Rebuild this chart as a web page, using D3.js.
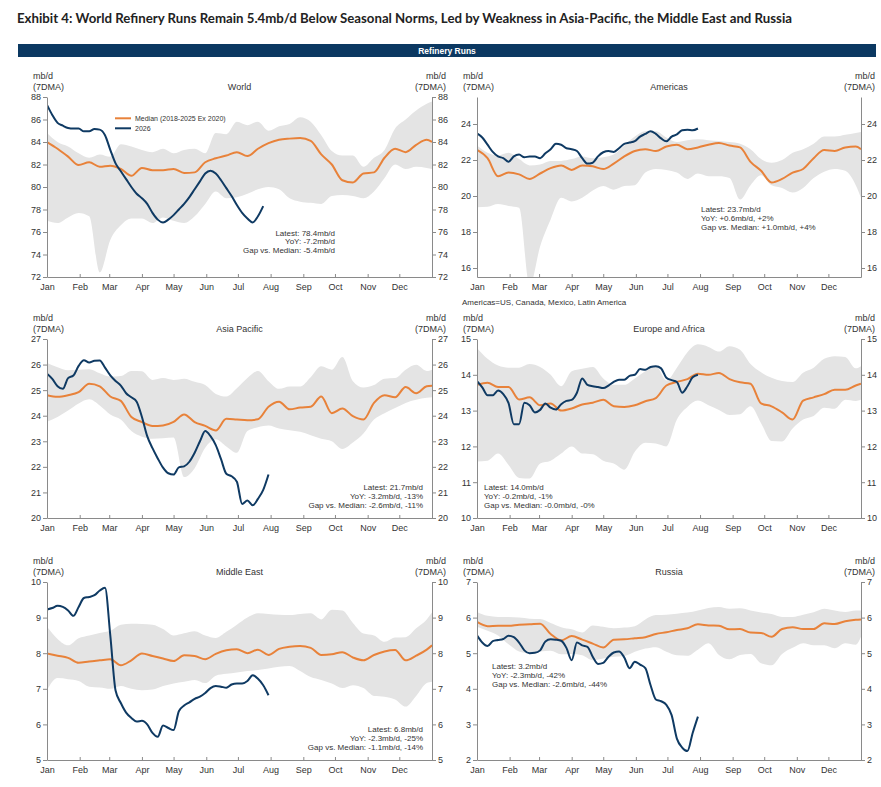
<!DOCTYPE html>
<html><head><meta charset="utf-8">
<script src="https://cdn.jsdelivr.net/npm/d3@7"></script>
<style>body{margin:0;background:#fff}svg{display:block}</style>
</head><body><svg id="c" width="881" height="787"></svg>
<script>
const monthLabels = ["Jan","Feb","Mar","Apr","May","Jun","Jul","Aug","Sep","Oct","Nov","Dec"];
const monthStartDays = [0,31,59,90,120,151,181,212,243,273,304,334];
const bandDays = [0,10,20,30,40,50,60,70,80,90,100,110,120,130,140,150,160,170,180,190,200,210,220,230,240,250,260,270,280,290,300,310,320,330,340,350,360,365];
const days2026 = [0,5,10,15,20,25,30,35,40,45,50,55,60,65,70,75,80,85,90,95,100,105,110,115,120,125,130,135,140,145,150,155,160,165,170,175,180,185,190,195,200,205,210];

const worldMedian = [84.0,83.4,82.7,81.95,82.2,81.8,81.9,81.6,81.0,81.7,81.5,81.5,81.6,81.25,81.3,82.2,82.55,82.8,83.1,82.75,83.4,83.9,84.2,84.3,84.35,84.1,82.9,82.0,80.6,80.4,81.2,81.3,82.6,83.4,83.1,83.75,84.2,84.0];
const worldUpper = [84.8,84.0,83.6,83.0,82.6,82.9,82.7,83.8,83.6,83.3,83.1,83.4,83.0,83.3,83.4,83.0,84.8,84.7,85.8,85.5,85.8,85.0,85.4,85.6,86.2,85.8,84.6,83.2,82.8,82.8,81.8,82.6,83.3,85.2,86.0,86.8,87.4,87.6];
const worldLower = [77.0,76.8,77.3,77.7,77.4,72.4,75.3,76.6,77.2,77.2,76.8,77.3,77.0,76.8,77.4,78.5,79.6,79.0,79.1,79.4,79.8,80.0,79.8,79.0,78.7,78.6,78.5,79.2,79.3,79.2,79.0,79.6,80.8,82.0,81.6,81.8,81.7,81.6];
const world2026 = [87.3,86.4,85.7,85.45,85.25,85.2,85.2,84.95,84.95,85.15,85.1,84.6,83.3,82.1,81.4,80.7,80.0,79.4,79.0,78.5,77.7,77.1,76.85,77.1,77.5,78.0,78.5,79.1,79.8,80.5,81.2,81.45,81.2,80.6,79.9,79.2,78.4,77.7,77.2,76.85,77.4,78.3];

const americasMedian = [22.56,22.1,21.1,21.3,21.2,20.95,21.25,21.55,21.7,21.45,21.7,21.65,21.5,21.8,22.2,22.5,22.6,22.5,22.75,22.85,22.6,22.7,22.85,22.95,22.8,22.7,21.9,21.4,20.75,20.95,21.3,21.5,22.1,22.55,22.5,22.7,22.75,22.6];
const americasUpper = [22.8,22.4,22.25,22.4,22.05,21.7,21.75,21.95,21.95,22.05,22.2,22.1,22.15,22.3,22.8,23.3,23.6,23.6,23.25,23.0,23.1,23.15,23.1,23.05,23.0,22.9,22.6,22.05,21.85,22.0,22.4,22.6,22.9,23.3,23.3,23.4,23.5,23.55];
const americasLower = [19.37,19.4,19.55,19.45,19.35,15.0,17.2,18.7,19.9,19.7,19.9,20.3,20.55,20.35,20.55,20.6,21.3,21.5,21.45,21.3,20.95,21.25,21.1,21.1,21.0,19.8,20.6,21.15,20.6,20.45,20.2,20.45,21.0,21.35,21.5,21.4,20.6,19.9];
const americas2026 = [23.48,23.25,22.85,22.45,22.2,22.1,21.9,22.2,22.3,22.15,22.2,22.2,22.1,22.37,22.6,22.9,22.85,22.65,22.6,22.5,22.1,21.8,21.85,22.2,22.43,22.5,22.45,22.65,22.9,22.97,23.05,23.3,23.45,23.6,23.45,23.2,23.04,23.3,23.42,23.65,23.68,23.65,23.75];

const asiaMedian = [24.8,24.74,24.8,24.92,25.25,25.15,24.75,24.58,23.95,23.75,23.6,23.62,23.76,24.05,23.75,23.6,23.42,23.88,23.85,23.82,23.86,24.35,24.55,24.25,24.32,24.35,24.75,24.1,24.28,23.98,23.85,24.5,24.8,24.72,25.12,24.88,25.15,25.17];
const asiaUpper = [26.06,25.9,25.78,25.8,25.82,25.66,25.53,25.55,25.75,25.74,25.4,25.47,25.4,25.45,25.33,25.2,24.85,24.75,25.07,25.47,25.75,25.35,25.05,25.14,25.14,25.5,25.93,25.8,26.3,25.35,25.1,25.2,25.45,25.47,25.8,25.99,25.75,25.8];
const asiaLower = [23.76,23.95,24.2,24.48,24.64,24.4,24.05,23.85,23.4,23.18,23.1,23.12,23.15,21.6,21.95,22.75,23.08,22.8,22.55,23.4,23.55,23.62,23.5,23.43,23.37,23.24,23.1,23.0,22.7,22.95,23.3,23.85,24.1,24.3,24.5,24.62,24.7,24.72];
const asia2026 = [25.64,25.44,25.15,25.05,25.47,25.57,25.95,26.17,26.08,26.15,26.16,25.88,25.58,25.36,25.18,24.88,24.72,24.55,23.95,23.2,22.73,22.33,21.97,21.75,21.7,21.98,22.02,22.2,22.55,23.0,23.4,23.2,22.85,22.3,21.73,21.63,21.42,20.55,20.68,20.5,20.75,21.1,21.7];

const europeMedian = [13.72,13.78,13.66,13.66,13.31,13.37,13.15,13.2,13.0,13.06,13.17,13.22,13.3,13.12,13.1,13.15,13.26,13.35,13.7,13.8,13.88,14.03,14.0,14.05,13.88,13.79,13.75,13.2,13.12,12.95,12.75,13.28,13.37,13.46,13.58,13.58,13.7,13.75];
const europeUpper = [14.75,14.45,14.26,14.2,14.2,14.3,14.22,14.0,13.68,14.1,14.17,14.22,13.9,13.72,13.72,13.9,14.1,14.25,13.84,14.2,14.63,14.85,14.78,14.65,14.8,14.7,14.3,14.07,13.92,13.83,13.8,14.06,14.2,14.45,14.52,14.5,14.18,14.24];
const europeLower = [11.58,11.6,11.8,11.48,11.12,11.1,11.52,11.6,11.8,12.0,11.8,11.78,11.6,11.52,11.35,11.85,12.1,12.08,12.0,12.75,13.1,13.28,13.15,13.02,12.88,12.9,13.12,12.65,12.15,12.14,12.5,12.75,12.85,13.08,13.05,13.3,13.27,13.3];
const europe2026 = [13.82,13.65,13.43,13.43,13.56,13.46,13.21,12.62,12.62,13.22,13.15,12.95,13.02,13.2,13.08,13.03,13.18,13.27,13.3,13.5,13.9,13.72,13.68,13.66,13.63,13.7,13.8,13.86,13.86,13.97,14.0,14.16,14.14,14.22,14.24,14.18,13.92,13.85,13.8,13.5,13.68,13.93,14.0];

const meMedian = [7.99,7.93,7.87,7.73,7.77,7.8,7.83,7.66,7.8,7.99,7.92,7.85,7.78,7.94,7.92,7.83,7.98,8.08,8.11,8.0,8.1,7.95,8.12,8.18,8.2,8.15,7.95,7.97,8.03,7.88,7.8,7.95,8.05,8.09,7.8,7.93,8.1,8.22];
const meUpper = [8.74,8.4,8.22,8.42,8.5,8.57,8.63,8.8,8.83,8.82,8.8,8.68,8.5,8.56,8.62,8.5,8.43,8.6,8.8,9.0,9.12,9.1,9.08,9.07,9.1,9.12,8.95,9.22,9.2,8.85,8.55,8.5,8.32,8.44,8.45,8.7,8.95,9.14];
const meLower = [6.96,7.3,7.27,7.22,7.06,7.04,7.0,7.08,7.0,6.96,6.98,7.08,7.15,7.2,7.25,7.16,7.37,7.42,7.46,7.5,7.53,7.57,7.62,7.64,7.5,7.33,7.25,7.15,7.02,7.1,7.02,6.8,6.78,6.7,6.5,6.8,7.16,7.2];
const me2026 = [9.23,9.27,9.33,9.3,9.2,9.05,9.3,9.55,9.58,9.63,9.76,9.84,8.5,6.95,6.6,6.33,6.18,6.08,6.1,6.0,5.76,5.65,5.97,5.9,5.84,6.37,6.53,6.62,6.72,6.78,6.88,7.02,7.08,7.06,7.03,7.12,7.15,7.15,7.22,7.38,7.28,7.1,6.82];

const russiaMedian = [5.88,5.76,5.77,5.77,5.8,5.81,5.83,5.54,5.36,5.48,5.38,5.27,5.16,5.38,5.39,5.42,5.45,5.54,5.59,5.65,5.7,5.81,5.78,5.77,5.67,5.68,5.58,5.57,5.46,5.68,5.73,5.68,5.68,5.84,5.82,5.9,5.94,5.95];
const russiaUpper = [6.16,6.05,6.02,6.02,6.0,5.97,5.96,5.85,5.73,5.67,5.58,5.78,5.74,5.7,5.72,5.76,5.95,6.07,6.08,6.11,6.14,6.2,6.27,6.3,6.25,6.26,6.2,6.14,6.1,6.02,6.02,6.08,6.15,6.25,6.2,6.16,6.2,6.2];
const russiaLower = [5.74,5.63,5.5,5.25,5.05,5.0,5.05,5.07,4.97,4.98,4.94,4.8,4.85,4.9,4.92,5.04,5.13,5.17,5.04,4.94,4.93,5.1,5.28,4.95,4.83,4.95,4.98,4.72,4.66,4.98,5.15,5.28,5.22,5.22,5.14,5.28,5.24,5.46];
const russia2026 = [5.5,5.3,5.2,5.34,5.37,5.4,5.49,5.45,5.3,5.08,5.0,5.01,5.08,5.33,5.39,5.38,5.35,5.15,4.8,5.3,5.22,5.18,4.9,4.7,4.73,4.9,5.02,5.05,4.88,4.58,4.76,4.68,4.58,4.1,3.7,3.65,3.55,3.26,2.6,2.35,2.25,2.76,3.22];

const worldNotes = ["Latest: 78.4mb/d","YoY: -7.2mb/d","Gap vs. Median: -5.4mb/d"];
const americasNotes = ["Latest: 23.7mb/d","YoY: +0.6mb/d, +2%","Gap vs. Median: +1.0mb/d, +4%"];
const asiaNotes = ["Latest: 21.7mb/d","YoY: -3.2mb/d, -13%","Gap vs. Median: -2.6mb/d, -11%"];
const europeNotes = ["Latest: 14.0mb/d","YoY: -0.2mb/d, -1%","Gap vs. Median: -0.0mb/d, -0%"];
const meNotes = ["Latest: 6.8mb/d","YoY: -2.3mb/d, -25%","Gap vs. Median: -1.1mb/d, -14%"];
const russiaNotes = ["Latest: 3.2mb/d","YoY: -2.3mb/d, -42%","Gap vs. Median: -2.6mb/d, -44%"];
const legendLabels = ["Median (2018-2025 Ex 2020)","2026"];

const worldTicks = [72,74,76,78,80,82,84,86,88];
const americasTicks = [16,18,20,22,24];
const asiaTicks = [20,21,22,23,24,25,26,27];
const europeTicks = [10,11,12,13,14,15];
const meTicks = [5,6,7,8,9,10];
const russiaTicks = [2,3,4,5,6,7];

const ORANGE = "#E8823A", NAVY = "#0F3A63", BAND = "#E4E4E4", AXIS = "#8a8a8a", TXT = "#333";
const FONT = "'Liberation Sans', Arial, sans-serif";

const panels = [
  {title:"World", x0:47,x1:432,y0:97,y1:277, domain:[72,88], ticks:worldTicks, median:worldMedian, upper:worldUpper, lower:worldLower, cur:world2026, notes:worldNotes, nx:335, ny:235.5, anchor:"end", legend:true},
  {title:"Americas", x0:477,x1:861,y0:97,y1:277, domain:[15.5,25.5], ticks:americasTicks, median:americasMedian, upper:americasUpper, lower:americasLower, cur:americas2026, notes:americasNotes, nx:701, ny:212, anchor:"start", foot:"Americas=US, Canada, Mexico, Latin America"},
  {title:"Asia Pacific", x0:47,x1:432,y0:339,y1:518, domain:[20,27], ticks:asiaTicks, median:asiaMedian, upper:asiaUpper, lower:asiaLower, cur:asia2026, notes:asiaNotes, nx:423, ny:490, anchor:"end"},
  {title:"Europe and Africa", x0:477,x1:861,y0:339,y1:518, domain:[10,15], ticks:europeTicks, median:europeMedian, upper:europeUpper, lower:europeLower, cur:europe2026, notes:europeNotes, nx:484, ny:490, anchor:"start"},
  {title:"Middle East", x0:47,x1:432,y0:582,y1:760, domain:[5,10], ticks:meTicks, median:meMedian, upper:meUpper, lower:meLower, cur:me2026, notes:meNotes, nx:423, ny:732, anchor:"end"},
  {title:"Russia", x0:477,x1:861,y0:582,y1:760, domain:[2,7], ticks:russiaTicks, median:russiaMedian, upper:russiaUpper, lower:russiaLower, cur:russia2026, notes:russiaNotes, nx:492, ny:669, anchor:"start"}
];

const svg = d3.select("#c");
svg.append("rect").attr("width",881).attr("height",787).attr("fill","#fff");

svg.append("text").attr("x",17).attr("y",23)
  .attr("font-family","Lato, 'Open Sans', sans-serif").attr("font-weight","bold").attr("font-size",14)
  .attr("fill","#222").attr("textLength",775).attr("lengthAdjust","spacingAndGlyphs")
  .text("Exhibit 4: World Refinery Runs Remain 5.4mb/d Below Seasonal Norms, Led by Weakness in Asia-Pacific, the Middle East and Russia");

svg.append("rect").attr("x",18).attr("y",44).attr("width",858).attr("height",13).attr("fill","#0B3861");
svg.append("text").attr("x",447).attr("y",53.7).attr("text-anchor","middle")
  .attr("font-family",FONT).attr("font-weight","bold").attr("font-size",8.5).attr("fill","#fff").text("Refinery Runs");

function styleAxis(g){
  g.attr("font-family",FONT).attr("font-size",9);
  g.select(".domain").attr("stroke",AXIS);
  g.selectAll(".tick line").attr("stroke",AXIS);
  g.selectAll(".tick text").attr("fill",TXT);
}

panels.forEach((p,pi)=>{
  const x = d3.scaleLinear().domain([0,365]).range([p.x0,p.x1]);
  const y = d3.scaleLinear().domain(p.domain).range([p.y1,p.y0]);
  const g = svg.append("g");
  const cid = "clip"+pi;
  g.append("clipPath").attr("id",cid).append("rect")
    .attr("x",p.x0).attr("y",p.y0).attr("width",p.x1-p.x0).attr("height",p.y1-p.y0);
  const plot = g.append("g").attr("clip-path",`url(#${cid})`);

  const area = d3.area().x((d,i)=>x(bandDays[i])).y0((d,i)=>y(p.lower[i])).y1((d,i)=>y(p.upper[i])).curve(d3.curveMonotoneX);
  plot.append("path").datum(p.upper).attr("d",area).attr("fill",BAND);

  const medLine = d3.line().x((d,i)=>x(bandDays[i])).y(d=>y(d)).curve(d3.curveMonotoneX);
  plot.append("path").datum(p.median).attr("d",medLine).attr("fill","none").attr("stroke",ORANGE).attr("stroke-width",2);

  const curLine = d3.line().x((d,i)=>x(days2026[i])).y(d=>y(d)).curve(d3.curveMonotoneX);
  plot.append("path").datum(p.cur).attr("d",curLine).attr("fill","none").attr("stroke",NAVY).attr("stroke-width",2).attr("stroke-linejoin","round");

  g.append("g").attr("transform",`translate(${p.x0},0)`)
    .call(d3.axisLeft(y).tickValues(p.ticks).tickFormat(d3.format("d")).tickSizeInner(4).tickSizeOuter(0).tickPadding(2)).call(styleAxis);
  g.append("g").attr("transform",`translate(${p.x1},0)`)
    .call(d3.axisRight(y).tickValues(p.ticks).tickFormat(d3.format("d")).tickSizeInner(4).tickSizeOuter(0).tickPadding(2)).call(styleAxis);
  g.append("g").attr("transform",`translate(0,${p.y1})`)
    .call(d3.axisBottom(x).tickValues(monthStartDays).tickFormat((d,i)=>monthLabels[i]).tickSizeInner(-3).tickSizeOuter(0).tickPadding(7)).call(styleAxis);

  const t = (xx,yy,s,anchor,size)=>g.append("text").attr("x",xx).attr("y",yy).attr("text-anchor",anchor||"start")
    .attr("font-family",FONT).attr("font-size",size||9).attr("fill",TXT).text(s);
  t(p.x0-14,p.y0-18.5,"mb/d");
  t(p.x0-14,p.y0-7.5,"(7DMA)");
  t(p.x1+14,p.y0-18.5,"mb/d","end");
  t(p.x1+14,p.y0-7.5,"(7DMA)","end");
  t((p.x0+p.x1)/2,p.y0-7.5,p.title,"middle");

  p.notes.forEach((s,i)=>t(p.nx,p.ny+i*8.8,s,p.anchor,8));
  if(p.foot) t(p.x0-15,p.y1+28,p.foot,"start",8);

  if(p.legend){
    const cols=[ORANGE,NAVY];
    legendLabels.forEach((s,i)=>{
      const ly = 118.3+i*10;
      g.append("line").attr("x1",115).attr("x2",131).attr("y1",ly).attr("y2",ly).attr("stroke",cols[i]).attr("stroke-width",2);
      t(135,ly+2.5,s,"start",7);
    });
  }
});
</script></body></html>
